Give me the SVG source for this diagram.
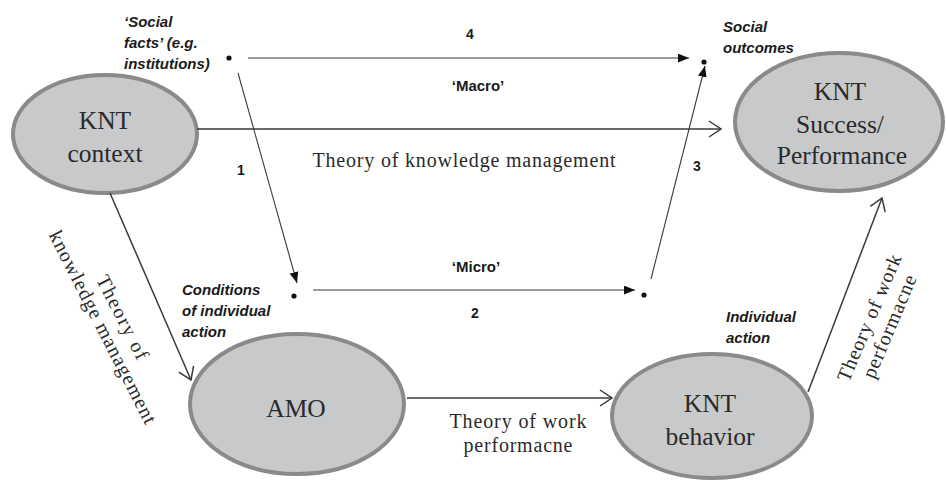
<svg xmlns="http://www.w3.org/2000/svg" width="946" height="480" viewBox="0 0 946 480">
  <style>
    .node ellipse { fill: #c8c9cb; stroke: #8a8a8a; stroke-width: 4; }
    .big { font-family: "Liberation Serif", "Times New Roman", serif; font-size: 25.5px; text-anchor: middle; fill: #2a2a2a; }
    .theory { font-family: "Liberation Serif", "Times New Roman", serif; font-size: 20px; text-anchor: middle; fill: #2a2a2a; }
    .lbl { font-family: "Liberation Sans", Arial, sans-serif; font-weight: bold; font-style: italic; font-size: 15px; fill: #1a1a1a; }
    .num { font-family: "Liberation Sans", Arial, sans-serif; font-weight: bold; font-size: 14px; fill: #1a1a1a; text-anchor: middle; }
    .tag { font-size: 15px; }
    .thin { stroke: #7a7a7a; stroke-width: 1.6; fill: none; }
    .thin-dark { stroke: #3a3a3a; stroke-width: 1.1; fill: none; }
    .main { stroke: #3a3a3a; stroke-width: 1.5; fill: none; }
    .dot { fill: #111; }
  </style>
  <defs>
    <marker id="solid" viewBox="0 0 10 8" refX="10" refY="4" markerWidth="11" markerHeight="9" markerUnits="userSpaceOnUse" orient="auto">
      <path d="M0,0 L10,4 L0,8 Z" fill="#111"/>
    </marker>
    <marker id="open" viewBox="0 0 14 18" refX="13" refY="9" markerWidth="14" markerHeight="18" markerUnits="userSpaceOnUse" orient="auto">
      <path d="M1,1 L13,9 L1,17" fill="none" stroke="#3a3a3a" stroke-width="1.5"/>
    </marker>
  </defs>

  <!-- Nodes -->
  <g id="knt-context" class="node">
    <ellipse cx="105" cy="134" rx="92" ry="59"/>
    <text class="big" x="105" y="129">KNT</text>
    <text class="big" x="105" y="162">context</text>
  </g>
  <g id="knt-success" class="node">
    <ellipse cx="839" cy="122" rx="104" ry="69"/>
    <text class="big" x="840" y="100">KNT</text>
    <text class="big" x="840" y="133">Success/</text>
    <text class="big" x="842" y="164">Performance</text>
  </g>
  <g id="amo" class="node">
    <ellipse cx="297" cy="404" rx="107" ry="70"/>
    <text class="big" x="296" y="417">AMO</text>
  </g>
  <g id="knt-behavior" class="node">
    <ellipse cx="712" cy="416" rx="100" ry="62"/>
    <text class="big" x="710" y="412">KNT</text>
    <text class="big" x="710" y="445">behavior</text>
  </g>

  <!-- Coleman boat points -->
  <g id="point-social-facts">
    <circle class="dot" cx="229" cy="58" r="2.6"/>
    <text class="lbl"><tspan x="124" y="27">‘Social</tspan><tspan x="124" y="48">facts’ (e.g.</tspan><tspan x="124" y="69">institutions)</tspan></text>
  </g>
  <g id="point-social-outcomes">
    <circle class="dot" cx="704" cy="62" r="2.6"/>
    <text class="lbl"><tspan x="723" y="32">Social</tspan><tspan x="723" y="53">outcomes</tspan></text>
  </g>
  <g id="point-conditions">
    <circle class="dot" cx="294" cy="296" r="2.6"/>
    <text class="lbl"><tspan x="182" y="295">Conditions</tspan><tspan x="182" y="316">of individual</tspan><tspan x="182" y="337">action</tspan></text>
  </g>
  <g id="point-individual-action">
    <circle class="dot" cx="644" cy="295" r="2.6"/>
    <text class="lbl"><tspan x="726" y="322">Individual</tspan><tspan x="726" y="343">action</tspan></text>
  </g>

  <!-- Connectors -->
  <g id="connectors">
    <line class="thin" x1="248" y1="58" x2="689" y2="58" marker-end="url(#solid)"/>
    <line class="thin-dark" x1="238" y1="73" x2="297" y2="283" marker-end="url(#solid)"/>
    <line class="thin" x1="313" y1="290" x2="635" y2="290" marker-end="url(#solid)"/>
    <line class="thin-dark" x1="651" y1="279" x2="705" y2="66" marker-end="url(#solid)"/>

    <line class="main" x1="197" y1="129" x2="721" y2="129" marker-end="url(#open)"/>
    <line class="main" x1="110" y1="193" x2="191" y2="380" marker-end="url(#open)"/>
    <line class="main" x1="407" y1="398" x2="612" y2="398" marker-end="url(#open)"/>
    <line class="main" x1="808" y1="392" x2="882" y2="198" marker-end="url(#open)"/>
  </g>

  <!-- Connector labels -->
  <g id="labels">
    <text class="num" x="470" y="39">4</text>
    <text class="num tag" x="478" y="91">‘Macro’</text>
    <text class="num" x="241" y="175">1</text>
    <text class="num" x="697" y="171">3</text>
    <text class="num tag" x="476" y="272">‘Micro’</text>
    <text class="num" x="475" y="318">2</text>

    <text class="theory" x="464" y="167" textLength="303" lengthAdjust="spacing">Theory of knowledge management</text>
    <text class="theory" x="518" y="428" textLength="137" lengthAdjust="spacing">Theory of work</text>
    <text class="theory" x="518" y="452" textLength="109" lengthAdjust="spacing">performacne</text>

    <g transform="translate(113,322) rotate(63)">
      <text class="theory" x="0" y="-4" textLength="92" lengthAdjust="spacing">Theory of</text>
      <text class="theory" x="0" y="18" textLength="214" lengthAdjust="spacing">knowledge management</text>
    </g>
    <g transform="translate(879,322) rotate(-67)">
      <text class="theory" x="0" y="-4" textLength="136" lengthAdjust="spacing">Theory of work</text>
      <text class="theory" x="0" y="18" textLength="110" lengthAdjust="spacing">performacne</text>
    </g>
  </g>
</svg>
